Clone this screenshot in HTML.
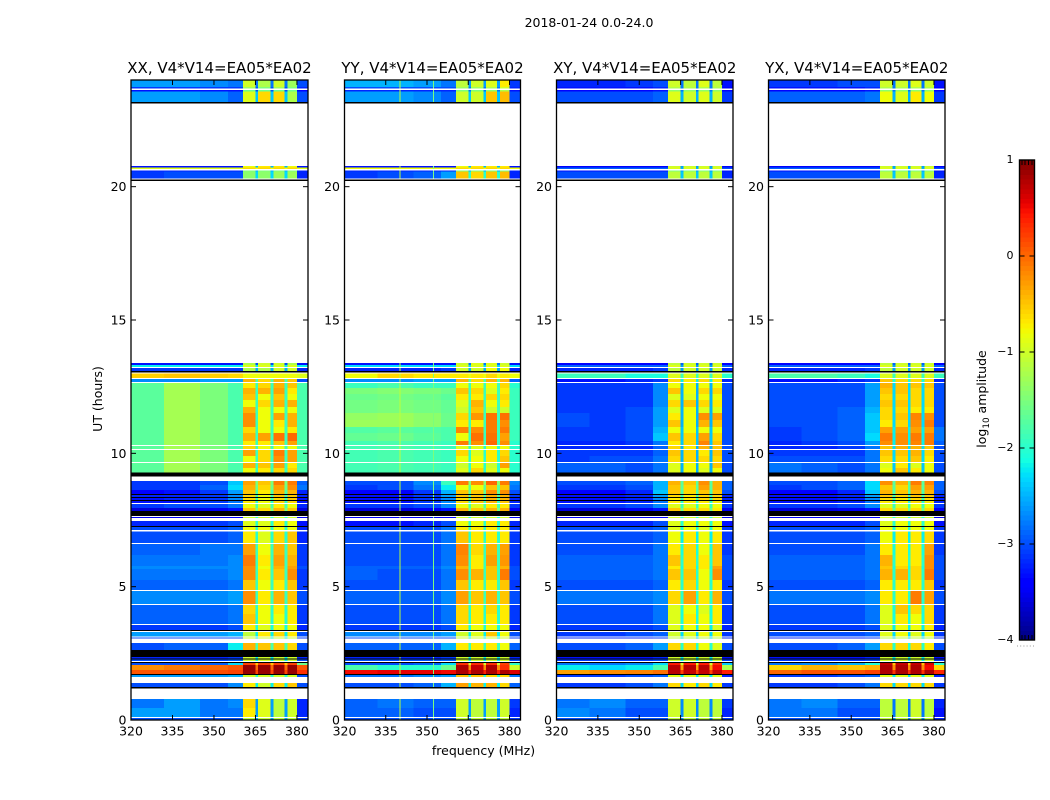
<!DOCTYPE html>
<html lang="en">
<head>
<meta charset="utf-8">
<title>2018-01-24 0.0-24.0</title>
<style>
html,body{margin:0;padding:0;background:#fff;width:1050px;height:800px;overflow:hidden}
svg{display:block}
text{font-family:"DejaVu Sans","Liberation Sans",sans-serif;fill:#000}
</style>
</head>
<body>
<svg id="chart" xmlns="http://www.w3.org/2000/svg" width="1050" height="800" viewBox="0 0 1050 800">
  <text x="589" y="27" font-size="12.5" text-anchor="middle">2018-01-24 0.0-24.0</text>
  <text x="483.5" y="755" font-size="12.5" text-anchor="middle">frequency (MHz)</text>
  <text transform="translate(102,399) rotate(-90)" font-size="12.5" text-anchor="middle">UT (hours)</text>
  <text transform="translate(986,399) rotate(-90)" font-size="12.5" text-anchor="middle">log<tspan font-size="8.8" dy="3">10</tspan><tspan dy="-3"> amplitude</tspan></text>
  <g id="panels"></g>
  <g id="colorbar"></g>
</svg>
<script>
// ---- chart data ----
const panelTitles = ['XX, V4*V14=EA05*EA02','YY, V4*V14=EA05*EA02','XY, V4*V14=EA05*EA02','YX, V4*V14=EA05*EA02'];
const freqTicks = [320,335,350,365,380];
const hourTicks = [0,5,10,15,20];
const colorbarTicks = [1,0,-1,-2,-3,-4];
const colorbarTickLabels = ['1','0','\u22121','\u22122','\u22123','\u22124'];

// Time rows, top to bottom: hour edges (UT) and row kind: d = data, w = no data, k = black flagged
const hourEdges = [24,23.74,23.68,23.63,23.57,23.18,23.12,20.78,20.72,20.66,20.61,20.57,20.31,20.27,20.21,13.39,13.31,13.24,13.2,13.09,13.03,12.99,12.83,12.79,12.68,12.64,12.45,12.23,12,11.74,11.51,11.25,10.99,10.76,10.46,10.31,10.28,10.16,10.13,9.9,9.68,9.64,9.45,9.28,9.13,8.96,8.81,8.63,8.48,8.44,8.36,8.33,8.25,8.21,8.14,8.1,7.95,7.84,7.65,7.61,7.58,7.46,7.28,7.24,7.13,7.07,6.64,6.6,6.19,5.78,5.66,5.25,4.88,4.84,4.35,4.31,3.98,3.6,3.56,3.38,3.34,3.3,3.13,3.09,3.06,2.89,2.63,2.36,2.31,2.27,2.21,2.18,2.14,2.06,1.88,1.73,1.69,1.61,1.39,1.24,1.18,0.79,0.45,0.11,0.08,0];
const rowKinds = ['d','d','w','d','d','k','w','d','d','w','d','d','w','k','w','d','d','w','d','k','w','d','w','d','w','d','d','d','d','d','d','d','d','d','d','w','d','w','d','d','w','d','d','k','w','d','d','d','k','d','k','d','k','d','w','d','d','k','w','d','w','d','k','d','w','d','w','d','d','d','d','d','w','d','w','d','d','w','d','k','w','d','w','d','w','d','k','d','k','d','w','k','d','d','d','k','d','w','d','k','w','d','d','w','d'];

// Frequency columns (MHz edges): four sideband columns, four spectral windows with gaps, upper edge
const colBg = [320,332,345,355,360.5];
const colBands = [[360.5,365],[366,370.5],[371.5,375.5],[376.5,380]];
const colGaps = [[365,366],[370.5,371.5],[375.5,376.5]];
const colRight = [380,384];

// log10 amplitude per data row: [L1,L2,L3,L4, B1,B2,B3,B4, gap, right]
const xxValues = [
[-2.6,-2.6,-2.7,-2.8,-1,-1.2,-1,-1.3,-2.8,-3],
[-3.1,-3.1,-3.1,-3.1,-1.3,-1.5,-1.3,-1.5,-3,-3.2],
[-3.3,-3.3,-3.3,-3.3,-1.6,-1.6,-1.6,-1.6,-3,-3.4],
[-2.6,-2.6,-2.7,-2.9,-.9,-.6,-.6,-1.2,-2.4,-3],
[-3.3,-3.3,-3.3,-3.3,-.8,-.7,-.7,-.8,-2.5,-3.3],
[-.9,-.9,-.9,-.9,-.6,-.6,-.6,-.6,-.8,-.9],
[-3.2,-3.2,-3.2,-3.2,-1.5,-1.5,-1.5,-1.5,-2.5,-3.2],
[-3.1,-3,-3,-3,-1.4,-1.4,-1.3,-1.3,-2.3,-3.2],
[-3.3,-3.3,-3.3,-3.3,-1.2,-1,-1,-1.2,-3,-3.3],
[-2.2,-2.2,-2.2,-2.2,-.9,-.9,-.9,-.9,-2.2,-2.2],
[-3.1,-3.1,-3.1,-3.1,-1.2,-1.2,-1,-1,-2.5,-3.2],
[-.55,-.5,-.55,-.6,-.8,-.8,-.8,-.8,-.8,-.9],
[-2.7,-2.7,-2.6,-2.6,-.4,-.6,-.4,-.5,-1.8,-3],
[-1.7,-1.25,-1.5,-1.8,-.7,-.6,-.4,-.5,-1.9,-1.8],
[-1.7,-1.25,-1.5,-1.8,-.4,-.4,-.3,-.7,-1.9,-1.8],
[-1.7,-1.25,-1.5,-1.8,-.5,-.8,-.5,-.8,-1.9,-1.8],
[-1.7,-1.25,-1.5,-1.8,-.8,-.6,-.4,-.4,-1.9,-1.8],
[-1.7,-1.25,-1.5,-1.8,-.4,-.8,-.8,-.8,-1.9,-1.8],
[-1.7,-1.25,-1.5,-1.8,-.2,-.8,-.3,-.4,-1.9,-1.8],
[-1.7,-1.25,-1.5,-1.8,-.2,-.8,-.7,-.4,-1.9,-1.8],
[-1.7,-1.25,-1.5,-1.8,-.6,-.8,-.8,-.7,-1.9,-1.8],
[-1.7,-1.25,-1.5,-1.8,-.4,-.3,-.05,0,-1.9,-1.8],
[-1.7,-1.25,-1.5,-1.8,-.7,-.7,-.5,-.3,-1.9,-1.8],
[-1.7,-1.25,-1.5,-1.8,-.6,-.8,-.8,-.8,-1.9,-1.8],
[-1.7,-1.25,-1.5,-1.8,-.3,-.6,-.1,-.3,-1.9,-1.8],
[-1.7,-1.25,-1.5,-1.8,-.8,-.6,-.2,-.3,-1.9,-1.8],
[-1.7,-1.25,-1.5,-1.8,-.4,-.5,-.3,-.7,-1.9,-1.8],
[-1.7,-1.25,-1.5,-1.8,-.8,-.7,-.6,-.6,-1.9,-1.8],
[-3.1,-3.1,-3,-2.4,-.3,-.5,-.1,-.1,-1.5,-2.9],
[-3.1,-3.1,-2.9,-2.3,-.4,-.6,-.3,-.2,-1.6,-2.8],
[-3.4,-3.3,-3.1,-2.6,-.5,-.7,-.4,-.4,-1.8,-3.2],
[-3.2,-3.2,-3.1,-2.7,-.6,-.8,-.5,-.5,-1.9,-3.2],
[-3.3,-3.2,-3.1,-2.7,-.6,-.8,-.6,-.5,-1.9,-3.3],
[-3.3,-3.3,-3.1,-2.8,-.7,-.8,-.6,-.6,-2,-3.3],
[-3.1,-3,-3,-2.8,-.8,-.9,-.7,-.8,-1.8,-3.2],
[-3.6,-3.6,-3.5,-3.3,-.5,-.6,-.4,-.5,-1.5,-3.6],
[-3.5,-3.5,-3.5,-3.4,-1,-1,-1,-1,-2,-3.5],
[-3.2,-3.2,-3.1,-3,-.9,-.9,-.7,-.8,-2,-3.3],
[-3,-3,-3,-2.9,-.8,-.8,-.8,-.8,-2,-3.2],
[-3,-3,-3,-2.9,-.7,-.9,-.6,-.5,-2,-3.2],
[-2.9,-2.9,-2.8,-2.8,-.3,-.8,-.4,-.5,-1.9,-3.1],
[-2.8,-2.8,-2.8,-2.7,-.1,-.7,-.3,-.4,-1.9,-3.1],
[-2.7,-2.7,-2.7,-2.7,-.2,-.8,-.4,-.3,-1.9,-3],
[-2.8,-2.8,-2.8,-2.7,-.2,-.7,-.5,-.2,-1.9,-3.1],
[-2.9,-2.9,-2.9,-2.8,-.5,-.8,-.7,-.5,-1.9,-3.1],
[-2.7,-2.7,-2.7,-2.6,-.2,-.7,-.4,-.5,-1.9,-3],
[-2.9,-2.9,-2.9,-2.8,-.6,-.8,-.7,-.7,-2,-3.1],
[-2.9,-2.9,-2.9,-2.8,-.5,-.8,-.8,-.7,-2,-3.1],
[-3.1,-3.1,-3.1,-3,-.7,-.9,-.8,-.8,-2.1,-3.2],
[-2.6,-2.6,-2.6,-2.5,-1.1,-.7,-.6,-.7,-2.2,-3],
[-3,-3,-3,-3,-1,-1,-1,-1,-2.2,-3.1],
[-3,-2.9,-2.9,-2.2,-.4,-.5,-.5,-.6,-1.8,-3],
[-3.2,-3.2,-3.2,-3.1,-1,-1,-1,-1,-2.2,-3.2],
[-3,-3,-3,-2.9,-1,-1,-1,-1,-2.2,-3],
[-3,-3,-2.9,-2.3,.2,.2,.2,.2,-.5,-1.6],
[-.2,-.1,0,.1,.9,.9,.9,.9,0,.1],
[.1,.1,.15,.2,.9,.9,.9,.9,.2,.3],
[-2.6,-2.6,-2.6,-2.5,-1,-1,-1,-1,-2,-3],
[-3,-3,-3,-2.7,-.7,-1,-.6,-.5,-2.2,-3],
[-2.8,-2.6,-2.8,-2.7,-.6,-.9,-1.1,-1,-2.6,-3.2],
[-2.6,-2.6,-2.8,-2.8,-.7,-.9,-1.1,-1,-2.6,-3.2],
[-3,-3,-3,-3,-1.1,-1.1,-1.1,-1.1,-2.6,-3.1]
];
const yyValues = [
[-2.5,-2.5,-2.6,-2.8,-1.1,-1,-.9,-.7,-2.6,-3.1],
[-3,-3,-3,-3,-1.3,-1.3,-1.2,-1,-2.8,-3.2],
[-3.2,-3.2,-3.2,-3.2,-1.5,-1.5,-1.4,-1.2,-2.8,-3.3],
[-2.6,-2.6,-2.7,-2.9,-1,-1,-.5,-.45,-2.4,-3],
[-3.3,-3.3,-3.3,-3.3,-.8,-.7,-.7,-.7,-2.5,-3.3],
[-.8,-.8,-.8,-.8,-.6,-.6,-.6,-.6,-.8,-.8],
[-3.2,-3.2,-3.2,-3.2,-1.5,-1.5,-1.5,-1.5,-2.5,-3.2],
[-3.1,-3,-2.9,-2.6,-.5,-.6,-.5,-.45,-2,-3.2],
[-3.3,-3.3,-3.3,-3.3,-1,-.9,-.9,-1,-2.8,-3.3],
[-2.3,-2.3,-2.3,-2.3,-.9,-.9,-.9,-.9,-2.3,-2.3],
[-3.2,-3.2,-3.2,-3.1,-1,-1,-.8,-.8,-2.5,-3.2],
[-.8,-.6,-.7,-.7,-.7,-.7,-.6,-.7,-.8,-.8],
[-2.7,-2.7,-2.6,-2.6,-.4,-.6,-.4,-.4,-1.8,-2.9],
[-1.9,-1.8,-1.9,-1.9,-.8,-.8,-.8,-.6,-1.9,-2],
[-1.5,-1.45,-1.5,-1.6,-.5,-.6,-.9,-.7,-1.9,-1.9],
[-1.6,-1.55,-1.6,-1.7,-.7,-.7,-.6,-.6,-1.9,-1.9],
[-1.55,-1.5,-1.55,-1.65,-.9,-.4,-.8,-.7,-1.9,-1.9],
[-1.55,-1.5,-1.55,-1.65,-1,-.5,-1,-1,-1.9,-1.9],
[-1.35,-1.3,-1.4,-1.6,-.6,-.25,-.05,-.05,-1.9,-1.9],
[-1.3,-1.3,-1.4,-1.6,-.7,-.7,-.1,-.2,-1.9,-1.9],
[-1.75,-1.7,-1.75,-1.8,-.15,-.2,-.1,-.1,-1.9,-1.9],
[-1.65,-1.6,-1.7,-1.8,-.8,-.05,-.05,-.3,-1.9,-1.9],
[-1.85,-1.8,-1.85,-1.9,-.1,-.2,0,-.2,-1.9,-2],
[-1.85,-1.8,-1.85,-1.9,-.9,-.9,-.8,-.8,-2,-2],
[-1.85,-1.8,-1.85,-1.9,-.6,-.9,-.7,-.6,-2,-2],
[-1.85,-1.8,-1.85,-1.9,-.8,-.8,-.7,-.5,-2,-2],
[-1.85,-1.8,-1.85,-1.9,-1,-.8,-1,-.3,-2,-2],
[-1.85,-1.8,-1.85,-1.9,-.9,-.6,-.9,-.8,-2,-2],
[-3,-3,-2.7,-1.9,-.1,-.2,0,-.1,-1.4,-2.7],
[-3.1,-3,-2.8,-2.2,-.8,-.8,-.5,-.5,-1.7,-2.8],
[-3.4,-3.4,-3.1,-2.5,-.5,-.5,-.2,-.2,-1.7,-3],
[-3.3,-3.3,-3.1,-2.6,-.5,-.5,-.4,-.4,-1.8,-3.1],
[-3.3,-3.3,-3.1,-2.7,-.6,-.5,-.4,-.4,-1.8,-3.2],
[-3.3,-3.3,-3.1,-2.7,-.6,-.5,-.4,-.5,-1.9,-3.2],
[-3.1,-3.1,-3,-2.7,-.8,-.9,-.7,-.7,-1.8,-3.1],
[-3.6,-3.6,-3.5,-3.3,-.4,-.5,-.4,-.4,-1.5,-3.5],
[-3.5,-3.5,-3.5,-3.4,-1,-1,-1,-1,-2,-3.5],
[-3.3,-3.3,-3.2,-3,-.8,-.8,-.7,-.7,-2,-3.2],
[-3,-3,-3,-2.8,-.7,-.7,-.7,-.7,-2,-3.1],
[-3,-3,-3,-2.8,-.5,-.7,-.7,-.7,-2,-3.1],
[-3,-3,-3,-2.8,-.15,-.6,-.4,-.3,-1.9,-3.1],
[-3,-3,-3,-2.8,-.2,-.7,-.3,-.25,-1.9,-3.1],
[-2.9,-2.9,-2.9,-2.7,-.4,-.7,-.5,-.4,-1.9,-3],
[-2.9,-3,-3,-2.8,-.2,-.4,-.5,-.1,-1.9,-3],
[-3,-3,-3,-2.8,-.5,-.7,-.7,-.5,-1.9,-3.1],
[-2.9,-2.9,-2.9,-2.7,-.3,-.5,-.4,-.5,-1.9,-3],
[-3,-3,-3,-2.8,-.6,-.7,-.6,-.7,-2,-3.1],
[-3,-3,-3,-2.8,-.6,-.7,-.7,-.7,-2,-3.1],
[-3.1,-3.1,-3.1,-3,-.7,-.8,-.8,-.8,-2.1,-3.2],
[-2.7,-2.7,-2.7,-2.6,-1,-.9,-.5,-.8,-2.2,-3],
[-3,-3,-3,-3,-1,-1,-1,-1,-2.2,-3.1],
[-2.9,-2.9,-2.9,-2.5,-.7,-.7,-.7,-.8,-1.9,-2.9],
[-3.2,-3.2,-3.2,-3.1,-1,-1,-1,-1,-2.2,-3.2],
[-3,-3,-3,-2.9,-1,-1,-1,-1,-2.2,-3],
[-3,-3,-2.9,-2.3,.3,.3,.3,.2,-1,-2],
[-1.8,-2,-2,-1.6,.8,.7,.8,.3,-.2,-1],
[.5,.55,.55,.5,.8,.8,.8,.8,.4,.6],
[-2.8,-2.8,-2.7,-2.6,-.5,-.5,-.6,-.6,-2,-2.8],
[-3,-3,-2.9,-2.5,-.3,-.4,-.4,-.6,-2.2,-2.9],
[-2.9,-2.8,-2.9,-2.9,-1,-1.1,-1.1,-1,-2.6,-3.1],
[-2.9,-2.9,-3,-3,-1,-1.1,-1.1,-1,-2.6,-3.2],
[-3,-3,-3,-3,-1.1,-1.1,-1.1,-1.1,-2.6,-3.1]
];
const xyValues = [
[-3.2,-3.2,-3.1,-3,-1,-1.1,-.9,-1.1,-2.8,-3.3],
[-3.3,-3.3,-3.3,-3.2,-1.2,-1.2,-1.2,-1.2,-2.8,-3.4],
[-3.4,-3.4,-3.4,-3.3,-1.4,-1.4,-1.4,-1.4,-2.8,-3.4],
[-3,-3,-3,-2.9,-.9,-1,-.9,-1,-2.5,-3.1],
[-3.4,-3.4,-3.4,-3.4,-1,-1,-1,-1,-2.6,-3.4],
[-2.9,-2.9,-2.9,-2.9,-.9,-.9,-.9,-.9,-2.5,-3],
[-3.3,-3.3,-3.3,-3.3,-1.5,-1.5,-1.5,-1.5,-2.6,-3.3],
[-3,-3,-3,-3,-1.1,-1.1,-1.1,-1.1,-2.4,-3.2],
[-3.4,-3.4,-3.4,-3.4,-1.1,-1,-1,-1,-2.9,-3.4],
[-2.9,-2.9,-2.9,-2.9,-.9,-.9,-.9,-.9,-2.6,-2.9],
[-3.2,-3.2,-3.2,-3.1,-1.1,-1,-1,-1,-2.6,-3.2],
[-1.9,-1.9,-2.1,-2.1,-.9,-.9,-.9,-.9,-1.9,-2],
[-3.3,-3.3,-3.2,-3.1,-.6,-.7,-.6,-.7,-2.2,-3.2],
[-3.1,-3.1,-3.1,-2.7,-.8,-.8,-.8,-.8,-2.5,-3],
[-3.1,-3.1,-3.1,-2.7,-.5,-.8,-.6,-.6,-2.5,-3],
[-3.1,-3.1,-3.1,-2.7,-.9,-.9,-.8,-.8,-2.5,-3],
[-3.1,-3.1,-3.1,-2.7,-.6,-.5,-.6,-.7,-2.5,-3],
[-3.1,-3.1,-3,-2.6,-.9,-.8,-.9,-.9,-2.5,-3],
[-3,-3.1,-3,-2.6,-.7,-.8,-.2,-.3,-2.5,-3],
[-3,-3.1,-3,-2.6,-.5,-.8,-.4,-.5,-2.5,-3],
[-3.1,-3.1,-3,-2.5,-.8,-.8,-.8,-.8,-2.4,-3],
[-3.1,-3.1,-3,-2.4,-.5,-.6,-.3,-.6,-2.4,-3],
[-3.2,-3.2,-3.1,-2.8,-.7,-.6,-.15,-.5,-2.4,-3],
[-3.2,-3.2,-3.2,-2.9,-.6,-.7,-.4,-.5,-2.5,-3],
[-3.1,-3.1,-3.1,-2.9,-.5,-.6,-.7,-.5,-2.5,-3],
[-3.1,-3,-3,-2.8,-.6,-.6,-.6,-.6,-2.5,-3],
[-2.9,-2.9,-3,-2.8,-.9,-.8,-.8,-.5,-2.5,-3],
[-2.9,-2.9,-3,-2.8,-.9,-.8,-.9,-.8,-2.5,-3],
[-3,-3,-2.9,-2.5,-.4,-.5,-.2,-.4,-1.7,-2.9],
[-3.1,-3.1,-3,-2.5,-.5,-.6,-.3,-.4,-1.7,-2.9],
[-3.4,-3.4,-3.2,-2.4,-.5,-.6,-.5,-.5,-1.8,-3],
[-3.3,-3.3,-3.2,-2.6,-.6,-.7,-.6,-.6,-1.9,-3.2],
[-3.3,-3.3,-3.2,-2.7,-.7,-.7,-.6,-.6,-1.9,-3.2],
[-3.3,-3.3,-3.2,-2.8,-.7,-.7,-.7,-.7,-2,-3.2],
[-3.1,-3.1,-3,-2.7,-.9,-.9,-.8,-.8,-1.9,-3.1],
[-3.6,-3.6,-3.5,-3.3,-.5,-.6,-.6,-.7,-1.6,-3.5],
[-3.5,-3.5,-3.5,-3.4,-1,-1,-1,-1,-2,-3.5],
[-3.2,-3.2,-3.2,-3,-.9,-.8,-.8,-.8,-2,-3.3],
[-3,-3,-3,-2.9,-.9,-.8,-.9,-.8,-2.1,-3.1],
[-3,-3,-3,-2.9,-.8,-.7,-.8,-.7,-2.2,-3.1],
[-3,-3,-3,-2.8,-.7,-.6,-.8,-.5,-2.1,-3.1],
[-2.9,-2.9,-2.9,-2.8,-.5,-.6,-.7,-.5,-2,-3],
[-2.9,-2.9,-2.9,-2.8,-.7,-.6,-.7,-.3,-2.1,-3],
[-2.9,-2.9,-2.9,-2.8,-.5,-.5,-.8,-.2,-2,-3],
[-3,-3,-3,-2.9,-.7,-.6,-.8,-.7,-2,-3.1],
[-2.8,-2.8,-2.8,-2.7,-.6,-.3,-.7,-.4,-2,-3],
[-3,-3,-3,-2.8,-.9,-.8,-.9,-.7,-2.1,-3.1],
[-3,-3,-3,-2.8,-.9,-.7,-.8,-.7,-2.1,-3.1],
[-3.1,-3.1,-3.1,-3,-.9,-.8,-.8,-.9,-2.2,-3.2],
[-3.1,-3.1,-3,-2.9,-1,-.9,-.8,-.8,-2.3,-3.1],
[-3.2,-3.2,-3.2,-3.1,-1.1,-1.1,-1.1,-1.1,-2.3,-3.2],
[-3,-3,-2.9,-2.6,-.6,-.6,-.8,-.9,-2,-3],
[-3.3,-3.3,-3.3,-3.2,-1,-1,-1,-1,-2.2,-3.3],
[-3.1,-3.1,-3.1,-3,-1,-1,-1,-1,-2.2,-3.1],
[-2.8,-2.8,-2.7,-2.3,.4,.4,.4,.3,-1,-2.4],
[-2.2,-2.3,-2.2,-1.8,.75,.75,.75,.5,-.3,-1.2],
[-.3,-.2,-.15,-.05,.75,.7,.7,.7,.2,.4],
[-3.1,-3.1,-3,-2.9,-.9,-.9,-.9,-.9,-2.2,-3.2],
[-3.1,-3.1,-3,-2.8,-.6,-.7,-.6,-.7,-2.3,-3.1],
[-2.8,-2.7,-2.9,-2.9,-1,-1,-1.1,-1.1,-2.7,-3.1],
[-2.7,-2.8,-3,-3,-1,-1,-1.1,-1.1,-2.7,-3.2],
[-3,-3,-3,-3,-1.1,-1.1,-1.1,-1.1,-2.7,-3.1]
];
const yxValues = [
[-3.1,-3.1,-3,-3,-1,-1,-.9,-1,-2.8,-3.3],
[-3.3,-3.3,-3.3,-3.2,-1.2,-1.2,-1.2,-1.2,-2.8,-3.4],
[-3.4,-3.4,-3.4,-3.3,-1.4,-1.4,-1.4,-1.4,-2.8,-3.4],
[-2.9,-2.9,-2.9,-2.8,-.8,-.9,-.7,-.8,-2.5,-3.1],
[-3.4,-3.4,-3.4,-3.4,-1,-1,-1,-1,-2.6,-3.4],
[-2.9,-2.9,-2.9,-2.9,-.9,-.9,-.9,-.9,-2.5,-3],
[-3.3,-3.3,-3.3,-3.3,-1.5,-1.5,-1.5,-1.5,-2.6,-3.3],
[-3,-3,-3,-3,-1.1,-1.1,-1.1,-1.1,-2.4,-3.2],
[-3.4,-3.4,-3.4,-3.4,-1.1,-1,-1,-1,-2.9,-3.4],
[-2.9,-2.9,-2.9,-2.9,-.9,-.9,-.9,-.9,-2.6,-2.9],
[-3.2,-3.2,-3.2,-3.1,-1.1,-1,-1,-1,-2.6,-3.2],
[-1.8,-1.8,-1.9,-2.1,-.9,-.9,-.9,-.9,-1.9,-1.9],
[-3.3,-3.3,-3.2,-3.1,-.5,-.6,-.6,-.6,-2.1,-3.2],
[-3,-3,-3,-2.6,-.4,-.5,-.5,-.5,-2.3,-3],
[-3,-3,-3,-2.6,-.5,-.5,-.6,-.6,-2.3,-3],
[-3,-3,-3,-2.6,-.6,-.6,-.6,-.6,-2.3,-3],
[-3,-3,-3,-2.6,-.5,-.5,-.6,-.6,-2.3,-3],
[-3,-3,-2.9,-2.5,-.6,-.6,-.7,-.7,-2.3,-3],
[-3,-3,-2.9,-2.4,-.6,-.5,-.15,-.2,-2.3,-3],
[-3,-3,-2.9,-2.4,-.7,-.6,-.2,-.1,-2.3,-3],
[-3.1,-3,-2.9,-2.4,-.3,-.3,-.3,-.3,-2.2,-2.8],
[-3.1,-3,-2.9,-2.3,-.1,-.2,-.1,-.1,-2.2,-2.8],
[-3.2,-3.1,-3,-2.6,-.2,-.2,-.15,-.1,-2.2,-2.9],
[-3.2,-3.2,-3.1,-2.8,-.5,-.4,-.4,-.5,-2.3,-3],
[-3.1,-3.1,-3.1,-2.8,-.5,-.5,-.4,-.6,-2.3,-3],
[-3,-3,-3,-2.8,-.6,-.6,-.5,-.7,-2.3,-3],
[-2.8,-2.9,-3,-2.8,-.9,-.7,-.9,-.8,-2.4,-3],
[-2.8,-2.9,-3,-2.8,-.8,-.5,-.7,-.8,-2.4,-3],
[-3,-3,-2.9,-2.3,-.2,-.4,-.1,-.15,-1.7,-2.9],
[-3.1,-3,-2.9,-2.3,-.5,-.6,-.3,-.3,-1.7,-2.9],
[-3.4,-3.4,-3.2,-2.4,-.4,-.5,-.4,-.4,-1.8,-3],
[-3.3,-3.3,-3.2,-2.6,-.5,-.6,-.5,-.5,-1.9,-3.2],
[-3.3,-3.3,-3.2,-2.7,-.6,-.7,-.6,-.6,-1.9,-3.2],
[-3.3,-3.3,-3.2,-2.8,-.7,-.7,-.6,-.7,-2,-3.2],
[-3.1,-3.1,-3,-2.7,-.9,-.9,-.8,-.8,-1.9,-3.1],
[-3.6,-3.6,-3.5,-3.3,-.6,-.6,-.6,-.6,-1.6,-3.5],
[-3.5,-3.5,-3.5,-3.4,-1,-1,-1,-1,-2,-3.5],
[-3.2,-3.2,-3.2,-3,-.9,-.8,-.8,-.8,-2,-3.3],
[-3,-3,-3,-2.9,-.8,-.8,-.8,-.8,-2.1,-3.1],
[-3,-3,-3,-2.9,-.8,-.7,-.7,-.6,-2.2,-3.1],
[-3,-3,-3,-2.8,-.7,-.7,-.7,-.3,-2.1,-3.1],
[-2.9,-2.9,-2.9,-2.8,-.4,-.7,-.7,-.2,-2,-3],
[-2.9,-2.9,-2.9,-2.8,-.5,-.6,-.6,-.2,-2.1,-3],
[-2.9,-2.9,-2.9,-2.8,-.4,-.4,-.6,-.1,-2,-3],
[-3,-3,-3,-2.9,-.7,-.7,-.7,-.5,-2,-3.1],
[-2.8,-2.8,-2.8,-2.7,-.7,-.7,-.1,-.3,-2,-3],
[-3,-3,-3,-2.8,-.9,-.5,-.6,-.6,-2.1,-3.1],
[-3,-3,-3,-2.8,-.9,-.7,-.8,-.6,-2.1,-3.1],
[-3.1,-3.1,-3.1,-3,-.9,-.8,-.8,-.7,-2.2,-3.2],
[-3,-3,-3,-2.9,-.9,-.8,-.9,-.8,-2.3,-3.1],
[-3.2,-3.2,-3.2,-3.1,-1.1,-1.1,-1.1,-1.1,-2.3,-3.2],
[-3,-3,-2.9,-2.6,-.6,-.6,-.6,-.7,-2,-3],
[-3.3,-3.3,-3.3,-3.2,-1,-1,-1,-1,-2.2,-3.3],
[-3.1,-3.1,-3.1,-3,-1,-1,-1,-1,-2.2,-3.1],
[-2.8,-2.7,-2.5,-2.1,.7,.7,.7,.6,-.5,-2],
[-.6,-.4,-.5,-.4,.8,.8,.8,.5,-.2,-.6],
[.0,.1,.1,.2,.8,.8,.8,.8,.3,.35],
[-3.1,-3.1,-3,-2.9,-.9,-.9,-.9,-.9,-2.2,-3.2],
[-3.1,-3.1,-3,-2.8,-.6,-.6,-.6,-.6,-2.3,-3.1],
[-2.8,-2.7,-2.9,-2.9,-1.1,-1.1,-1,-1.1,-2.8,-3.2],
[-2.8,-2.8,-3,-3,-1.1,-1.1,-1,-1.1,-2.8,-3.3],
[-3,-3,-3,-3,-1.1,-1.1,-1.1,-1.1,-2.7,-3.2]
];
const panelValues = [xxValues,yyValues,xyValues,yxValues];

// Narrow interference lines on YY: frequency (MHz) and log10 amplitude
const yyRfiFreqs = [340,352.2];
const yyRfiLevels = [-1.1,-1.5];

// ---- axis functions ----
const panelLefts = [131,344.5,556.5,768.5];
const panelRights = [308,520.5,733,945];
const plotTop = 80, plotBottom = 720;
const freqMin = 320, freqMax = 384, hourMin = 0, hourMax = 24;
function xScale(p,f){return panelLefts[p]+(f-freqMin)/(freqMax-freqMin)*(panelRights[p]-panelLefts[p]);}
function yScale(h){return plotBottom-(h-hourMin)/(hourMax-hourMin)*(plotBottom-plotTop);}
const cbTop = 160, cbBottom = 640, cbLeft = 1019.5, cbRight = 1034.5, cbMin = -4, cbMax = 1;
function cbScale(v){return cbBottom-(v-cbMin)/(cbMax-cbMin)*(cbBottom-cbTop);}

function jetChannel(t,pts){
  for(let i=1;i<pts.length;i++){
    if(t<=pts[i][0]){
      const a=pts[i-1],b=pts[i];
      return a[1]+(b[1]-a[1])*(t-a[0])/(b[0]-a[0]);
    }
  }
  return pts[pts.length-1][1];
}
const jetR=[[0,0],[.35,0],[.66,1],[.89,1],[1,.5]];
const jetG=[[0,0],[.125,0],[.375,1],[.64,1],[.91,0],[1,0]];
const jetB=[[0,.5],[.11,1],[.34,1],[.65,0],[1,0]];
function jet(v){
  const t=Math.max(0,Math.min(1,(v-cbMin)/(cbMax-cbMin)));
  const c=x=>Math.round(255*x);
  return 'rgb('+c(jetChannel(t,jetR))+','+c(jetChannel(t,jetG))+','+c(jetChannel(t,jetB))+')';
}

const NS='http://www.w3.org/2000/svg';
function make(tag,attrs,parent){
  const e=document.createElementNS(NS,tag);
  for(const k in attrs){e.setAttribute(k,attrs[k]);}
  parent.appendChild(e);
  return e;
}

function drawCell(g,x0,x1,y0,y1,fill){
  const r=make('rect',{x:x0,y:y0,width:x1-x0,height:y1-y0,fill:fill,'shape-rendering':'crispEdges'},g);
  
  
}

const panelsRoot=document.getElementById('panels');
panelTitles.forEach(function(title,p){
  const g=make('g',{},panelsRoot);
  
  
  const L=panelLefts[p],R=panelRights[p];

  const heat=make('g',{},g);
  
  
  let d=0;
  rowKinds.forEach(function(kind,i){
    const y0=yScale(hourEdges[i]),y1=yScale(hourEdges[i+1]);
    if(kind==='w'){return;}
    if(kind==='k'){drawCell(heat,L,R,y0,y1,'#000');return;}
    const vals=panelValues[p][d++];
    if(!vals){return;}
    for(let c=0;c<4;c++){drawCell(heat,xScale(p,colBg[c]),xScale(p,colBg[c+1]),y0,y1,jet(vals[c]));}
    for(let c=0;c<4;c++){drawCell(heat,xScale(p,colBands[c][0]),xScale(p,colBands[c][1]),y0,y1,jet(vals[4+c]));}
    colGaps.forEach(function(gp){drawCell(heat,xScale(p,gp[0]),xScale(p,gp[1]),y0,y1,jet(vals[8]));});
    drawCell(heat,xScale(p,colRight[0]),xScale(p,colRight[1]),y0,y1,jet(vals[9]));
    if(p===1){
      yyRfiFreqs.forEach(function(f,k){
        const xc=xScale(p,f);
        drawCell(heat,xc,xc+1,y0,y1,jet(yyRfiLevels[k]));
      });
    }
  });

  freqTicks.forEach(function(f){
    const x=xScale(p,f);
    const t1=make('line',{x1:x,x2:x,y1:plotBottom,y2:plotBottom-5,stroke:'#000','stroke-width':1},g);
    
    
    const t2=make('line',{x1:x,x2:x,y1:plotTop,y2:plotTop+5,stroke:'#000','stroke-width':1},g);
    
    
    const lb=make('text',{x:x,y:plotBottom+15.5,'font-size':12.5,'text-anchor':'middle'},g);
    lb.textContent=String(f);
    
    
  });
  hourTicks.forEach(function(h){
    const y=yScale(h);
    const t1=make('line',{x1:L,x2:L+5,y1:y,y2:y,stroke:'#000','stroke-width':1},g);
    
    
    const t2=make('line',{x1:R,x2:R-5,y1:y,y2:y,stroke:'#000','stroke-width':1},g);
    
    
    const lb=make('text',{x:L-4.5,y:y+4.5,'font-size':12.5,'text-anchor':'end'},g);
    lb.textContent=String(h);
    
    
  });

  const frame=make('rect',{x:L,y:plotTop,width:R-L,height:plotBottom-plotTop,fill:'none',stroke:'#000','stroke-width':1.3},g);
  
  
  const tt=make('text',{x:(L+R)/2,y:73,'font-size':15,'text-anchor':'middle'},g);
  tt.textContent=title;
  
  
});

// colorbar
const cb=document.getElementById('colorbar');
for(let k=0;k<100;k++){
  const v0=cbMin+(cbMax-cbMin)*k/100, v1=cbMin+(cbMax-cbMin)*(k+1)/100;
  const r=make('rect',{x:cbLeft,y:cbScale(v1),width:cbRight-cbLeft,height:cbScale(v0)-cbScale(v1)+.5,fill:jet((v0+v1)/2),'shape-rendering':'crispEdges'},cb);
  
  
}
colorbarTicks.forEach(function(v,i){
  const y=cbScale(v);
  const a=make('line',{x1:cbLeft,x2:cbLeft+5,y1:y,y2:y,stroke:'#000','stroke-width':1},cb);
  
  
  const b=make('line',{x1:cbRight,x2:cbRight-5,y1:y,y2:y,stroke:'#000','stroke-width':1},cb);
  
  
  const lb=make('text',{x:1013.5,y:y+3,'font-size':11,'text-anchor':'end'},cb);
  lb.textContent=colorbarTickLabels[i];
  
  
});
[1022,1025,1028.5,1032].forEach(function(x){
  const a=make('line',{x1:x,x2:x,y1:cbTop,y2:cbTop+5,stroke:'#000','stroke-width':1},cb);
  
  
  const b=make('line',{x1:x,x2:x,y1:cbBottom,y2:cbBottom-5,stroke:'#000','stroke-width':1},cb);
  
  
});
const cbFrame=make('rect',{x:cbLeft,y:cbTop,width:cbRight-cbLeft,height:cbBottom-cbTop,fill:'none',stroke:'#000','stroke-width':1.4},cb);


const cbDots=make('line',{x1:1017,x2:1035,y1:646,y2:646,stroke:'#999','stroke-width':1,'stroke-dasharray':'1 2.2'},cb);


</script>
</body>
</html>
